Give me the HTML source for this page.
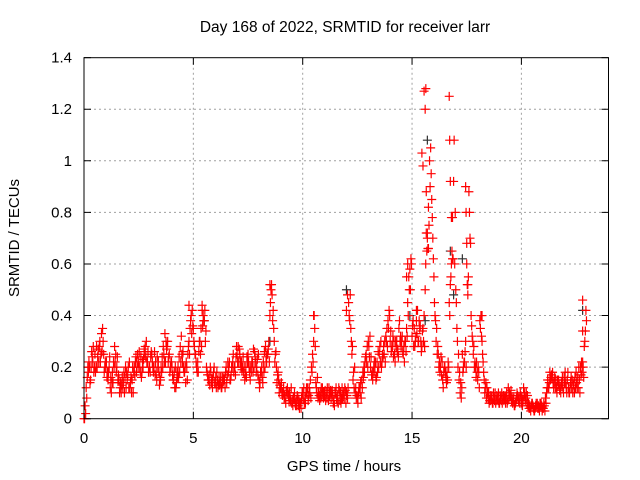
<!DOCTYPE html>
<html><head><meta charset="utf-8"><style>
body{margin:0;background:#fff}
svg{display:block;font-family:"Liberation Sans",sans-serif}
</style></head><body>
<svg id="chart" width="640" height="480" viewBox="0 0 640 480">
<rect width="640" height="480" fill="#fff"/>
<text x="345" y="32" font-size="15.5" text-anchor="middle" fill="#000">Day 168 of 2022, SRMTID for receiver larr</text>
<text x="344" y="471" font-size="15" text-anchor="middle" fill="#000">GPS time / hours</text>
<text x="19" y="238" font-size="15" text-anchor="middle" fill="#000" transform="rotate(-90 19 238)">SRMTID / TECUs</text>
<g id="grid"></g>
<g id="axes"></g>
<g id="black"></g>
<g id="red"></g>
<rect x="84" y="57.7" width="524.5" height="361" fill="none" stroke="#000" stroke-width="1"/>
</svg>
<script>
const xTicks=[0,5,10,15,20];
const yTicks=[0,0.2,0.4,0.6,0.8,1,1.2,1.4];
const yTickLabels=["0","0.2","0.4","0.6","0.8","1","1.2","1.4"];
const startHour=0, stepHour=0.1;
const redA=[0.0,.12,.18,.15,.22,.25,.2,.28,.33,.25,.2,
.15,.12,.18,.28,.2,.15,.1,.14,.2,.17,
.12,.15,.2,.18,.22,.24,.2,.28,.22,.2,
.25,.2,.18,.22,.15,.2,.33,.28,.25,.22,
.15,.12,.2,.28,.22,.18,.2,.3,.4,.35,
.25,.22,.3,.42,.38,.2,.15,.18,.16,.14,
.15,.13,.12,.16,.2,.18,.15,.22,.2,.25,
.27,.22,.18,.2,.25,.15,.22,.26,.2,.15,
.18,.22,.28,.25,.4,.48,.3,.2,.15,.12,
.1,.08,.12,.1,.06,.08,.07,.05,.06,.1,
.08,.1,.12,.2,.3,.14,.08,.1,.12,.09,
.1,.12,.08,.06,.1,.09,.07,.12,.08,.1,
.45,.35,.15,.1,.08,.12,.15,.2,.25,.3,
.2,.15,.18,.22,.25,.2,.28,.32,.38,.3,
.28,.25,.3,.35,.28,.25,.3,.45,.58,.32,
.35,.38,.3,.3,.35,.5,.7,1.0,.85,.55,
.3,.25,.2,.15,.2,.18,.45,.6,.92,.5,
.2,.1,.25,.22,.6,.88,.4,.25,.2,.15,
.38,.3,.15,.08,.1,.07,.06,.1,.08,.06,
.1,.07,.08,.12,.09,.06,.05,.1,.08,.06,
.12,.08,.05,.04,.06,.03,.05,.04,.06,.04,
.08,.15,.18,.16,.14,.12,.15,.1,.12,.18,
.15,.1,.12,.14,.18,.12,.2,.22,.3];
const redB=[.05,.16,.2,.26,.18,.2,.27,.22,.35,.2,.16,
.2,.1,.22,.25,.15,.12,.16,.1,.18,.12,
.16,.1,.22,.25,.2,.18,.27,.3,.18,.24,
.2,.17,.24,.13,.18,.25,.3,.22,.2,.17,
.12,.18,.24,.32,.2,.14,.25,.35,.42,.28,
.2,.26,.35,.4,.3,.17,.13,.15,.2,.12,
.13,.16,.14,.12,.17,.22,.2,.18,.24,.28,
.22,.2,.15,.24,.2,.18,.27,.22,.17,.14,
.16,.26,.22,.3,.5,.42,.25,.17,.13,.1,
.08,.11,.09,.07,.05,.06,.09,.04,.08,.12,
.1,.07,.15,.25,.35,.1,.09,.12,.08,.07,
.08,.1,.11,.05,.08,.12,.06,.09,.11,.08,
.38,.25,.12,.08,.1,.14,.18,.22,.28,.24,
.17,.2,.15,.26,.22,.25,.3,.35,.42,.26,
.24,.3,.27,.3,.32,.22,.35,.55,.62,.38,
.3,.42,.35,.28,.4,.72,.82,1.05,.7,.4,
.25,.22,.17,.18,.16,.22,.52,.78,.6,.35,
.15,.08,.2,.3,.48,.7,.32,.2,.22,.18,
.4,.22,.12,.1,.07,.09,.08,.07,.1,.08,
.08,.09,.06,.1,.07,.08,.07,.08,.1,.05,
.1,.06,.04,.05,.04,.05,.04,.06,.03,.05,
.1,.12,.16,.14,.12,.15,.11,.13,.16,.12,
.12,.14,.1,.16,.12,.15,.22,.16,.42];
const redC=[.0,.08,.22,.2,.28,.18,.24,.3,.26,.18,.22,
.18,.16,.14,.22,.24,.1,.13,.18,.12,.2,
.14,.2,.17,.22,.26,.16,.23,.24,.26,.18,
.22,.26,.15,.18,.2,.28,.22,.3,.18,.2,
.18,.14,.16,.22,.26,.2,.15,.25,.33,.3,
.22,.18,.25,.36,.42,.18,.17,.14,.18,.16,
.12,.14,.16,.15,.14,.2,.17,.25,.17,.22,
.25,.19,.2,.16,.22,.2,.18,.24,.23,.12,
.2,.18,.24,.27,.45,.38,.22,.14,.1,.14,
.12,.06,.1,.08,.07,.1,.05,.07,.04,.08,
.06,.12,.1,.18,.4,.12,.1,.08,.1,.11,
.12,.09,.1,.07,.12,.06,.1,.08,.12,.09,
.4,.3,.18,.12,.06,.1,.12,.18,.22,.28,
.24,.18,.22,.18,.28,.22,.25,.3,.35,.34,
.32,.22,.26,.38,.3,.28,.26,.4,.5,.36,
.28,.33,.38,.26,.3,.6,.66,.9,.78,.45,
.35,.2,.24,.12,.18,.15,.4,.65,1.08,.45,
.25,.14,.18,.26,.52,.8,.36,.28,.16,.2,
.35,.25,.1,.12,.06,.08,.1,.06,.07,.09,
.06,.08,.1,.08,.11,.07,.06,.09,.06,.08,
.09,.1,.06,.03,.05,.04,.06,.03,.05,.06,
.06,.12,.15,.18,.16,.1,.13,.14,.1,.14,
.18,.12,.15,.1,.14,.2,.17,.2,.34];
const redD=[.02,.2,.14,.24,.2,.28,.22,.25,.3,.22,.18,
.24,.14,.2,.18,.17,.14,.12,.16,.15,.22,
.1,.18,.24,.2,.18,.22,.25,.22,.2,.26,
.18,.22,.2,.16,.24,.22,.27,.24,.22,.15,
.2,.16,.18,.25,.18,.22,.28,.38,.36,.25,
.18,.3,.28,.38,.34,.15,.2,.12,.14,.18,
.16,.12,.15,.18,.22,.15,.2,.2,.28,.22,
.2,.24,.17,.22,.18,.22,.2,.18,.25,.18,
.14,.2,.25,.22,.52,.35,.26,.18,.12,.09,
.09,.1,.07,.12,.08,.05,.08,.06,.1,.06,
.12,.09,.08,.22,.28,.16,.07,.09,.1,.08,
.07,.11,.09,.1,.07,.11,.08,.1,.06,.12,
.48,.28,.2,.09,.12,.08,.16,.24,.2,.32,
.18,.22,.16,.2,.3,.24,.22,.28,.4,.28,
.3,.28,.24,.32,.26,.3,.32,.5,.6,.28,
.32,.3,.36,.34,.28,.65,.75,.95,.62,.38,
.28,.18,.22,.2,.14,.2,.55,.62,.8,.3,
.18,.12,.22,.2,.55,.68,.3,.22,.18,.12,
.32,.18,.14,.08,.09,.06,.07,.09,.06,.07,
.09,.06,.07,.09,.08,.05,.08,.07,.09,.07,
.07,.09,.05,.06,.03,.06,.05,.05,.04,.03,
.12,.14,.17,.12,.15,.13,.12,.16,.14,.1,
.1,.16,.13,.12,.16,.1,.18,.28,.38];
const spikeHours=[15.45,15.5,15.55,15.6,15.63,15.65,15.7,15.75,16.7,16.72,16.75,16.8,16.85,17.45,17.47,17.5,17.55,15.2,14.8,8.5,12.0,12.05,10.5,22.8,22.8,4.8,5.4,14.75,18.2];
const spikeVals=[1.03,.98,1.27,1.2,1.28,.88,.72,.66,1.25,1.08,.92,.78,.62,.9,.8,.68,.52,.42,.6,.52,.42,.48,.4,.46,.34,.44,.44,.55,.4];
const blackHours=[15.7,16.75,22.8,12.0,15.6,16.9,17.3,8.5,14.9,5.5];
const blackVals=[1.08,.65,.42,.5,.38,.48,.62,.3,.4,.38];
const X=h=>84+h*21.87;
const Y=v=>418.7-v*257.9;
const NS="http://www.w3.org/2000/svg";
const grid=document.getElementById('grid'),axes=document.getElementById('axes');
function mk(tag,attrs,parent){const e=document.createElementNS(NS,tag);for(const k in attrs)e.setAttribute(k,attrs[k]);parent.appendChild(e);return e;}
xTicks.forEach(t=>{
 if(t>0){const g=mk('line',{x1:X(t),x2:X(t),y1:57.7,y2:418.7,stroke:'#a0a0a0','stroke-dasharray':'2,3'},grid);
 
 }
 const tk=mk('path',{d:`M${X(t)},418.7v-7M${X(t)},57.7v7`,stroke:'#000'},axes);
 
 
 const l=mk('text',{x:X(t),y:443,'font-size':15,'text-anchor':'middle'},axes);l.textContent=t;
 
 
});
yTicks.forEach((t,i)=>{
 if(i>0&&i<yTicks.length-1){const g=mk('line',{x1:84,x2:608.5,y1:Y(t),y2:Y(t),stroke:'#a0a0a0','stroke-dasharray':'2,3'},grid);
 
 }
 const tk=mk('path',{d:`M84,${Y(t)}h7M608.5,${Y(t)}h-7`,stroke:'#000'},axes);
 
 
 const l=mk('text',{x:72,y:Y(t)+5,'font-size':15,'text-anchor':'end'},axes);l.textContent=yTickLabels[i];
 
 
});
function plus(h,v,color,parent){
 const x=X(h),y=Y(v);
 const p=mk('path',{d:`M${x-4.5},${y}h9M${x},${y-4.5}v9`,stroke:color,'stroke-width':1.2,fill:'none'},parent);
 
 
}
const bl=document.getElementById('black'),rd=document.getElementById('red');
blackHours.forEach((h,i)=>plus(h,blackVals[i],'#303030',bl));
redA.forEach((v,i)=>plus(startHour+i*stepHour,v,'#ff0000',rd));
redC.forEach((v,i)=>plus(startHour+i*stepHour+0.025,v,'#ff0000',rd));
redB.forEach((v,i)=>plus(startHour+i*stepHour+0.05,v,'#ff0000',rd));
redD.forEach((v,i)=>plus(startHour+i*stepHour+0.075,v,'#ff0000',rd));
spikeHours.forEach((h,i)=>plus(h,spikeVals[i],'#ff0000',rd));
</script>
</body></html>
